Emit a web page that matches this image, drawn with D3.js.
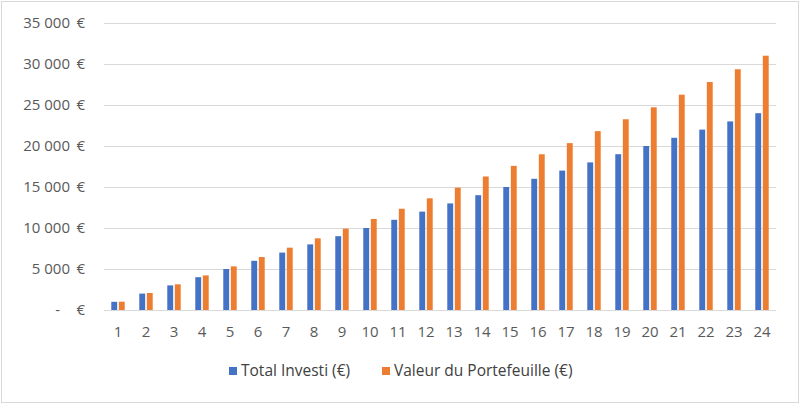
<!DOCTYPE html>
<html>
<head>
<meta charset="utf-8">
<script src="https://cdn.jsdelivr.net/npm/d3@7"></script>
<style>
  body { margin: 0; background: #fff; }
  text { font-family: "Open Sans", "Liberation Sans", sans-serif; fill: #595959; }
</style>
</head>
<body>
<div id="chart"></div>
<script>
let width = 800;
let height = 404;

// years 1..24
let years = d3.range(1, 25).map(String);
let totalInvesti = [1000, 2000, 3000, 4000, 5000, 6000, 7000, 8000, 9000, 10000, 11000, 12000,
    13000, 14000, 15000, 16000, 17000, 18000, 19000, 20000, 21000, 22000, 23000, 24000];
let valeurPortefeuille = [1010, 2070, 3130, 4220, 5320, 6460, 7600, 8740, 9920, 11100, 12350, 13620,
    14920, 16280, 17580, 18990, 20350, 21810, 23260, 24720, 26260, 27800, 29360, 31010];
let yTicks = [0, 5000, 10000, 15000, 20000, 25000, 30000, 35000];
let seriesNames = ["Total Investi (€)", "Valeur du Portefeuille (€)"];
let seriesColors = ["#4472C4", "#ED7D31"];

let margin = {left: 104, right: 24, top: 23, bottom: 94};

let svg = d3.select("#chart").append("svg")
    .attr("width", width)
    .attr("height", height);

// outer frame
svg.append("rect")
    .attr("x", 1.5).attr("y", 1.5)
    .attr("width", width - 3).attr("height", height - 3)
    .attr("fill", "white")
    .attr("stroke", "#D9D9D9");

let x = d3.scaleBand()
    .domain(years)
    .range([margin.left, width - margin.right])
    .paddingInner(0.52)
    .paddingOuter(0.26);

let xInner = d3.scaleBand()
    .domain([0, 1])
    .range([0, x.bandwidth()])
    .paddingInner(0.22);

let y = d3.scaleLinear()
    .domain([0, 35000])
    .range([height - margin.bottom, margin.top]);

// gridlines
svg.append("g")
    .selectAll("line")
    .data(yTicks)
    .enter()
    .append("line")
        .attr("x1", margin.left)
        .attr("x2", width - margin.right)
        .attr("y1", d => Math.round(y(d)) + 0.5)
        .attr("y2", d => Math.round(y(d)) + 0.5)
        .attr("stroke", "#D9D9D9")
        .attr("stroke-width", 1);

// y labels, accounting style: number then €
let fmt = d => d === 0 ? "-" : d3.format(",")(d).replace(/,/g, "\u00A0");
let yLab = svg.append("g").selectAll("g")
    .data(yTicks)
    .enter()
    .append("g")
        .attr("transform", d => `translate(0,${y(d)})`);
yLab.append("text")
    .attr("x", d => d === 0 ? 60 : 70)
    .attr("dy", "0.35em")
    .attr("text-anchor", "end")
    .style("font-size", "15px")
    .text(fmt);
yLab.append("text")
    .attr("x", 85)
    .attr("dy", "0.35em")
    .attr("text-anchor", "end")
    .style("font-size", "15px")
    .text("€");

// bars
let data = years.map((yr, i) => ({year: yr, values: [totalInvesti[i], valeurPortefeuille[i]]}));
let groups = svg.append("g")
    .selectAll("g")
    .data(data)
    .enter()
    .append("g")
        .attr("transform", d => `translate(${x(d.year)},0)`);
groups.selectAll("rect")
    .data(d => d.values.map((v, k) => ({k: k, v: v})))
    .enter()
    .append("rect")
        .attr("x", d => xInner(d.k))
        .attr("width", xInner.bandwidth())
        .attr("y", d => y(d.v))
        .attr("height", d => y(0) - y(d.v))
        .attr("fill", d => seriesColors[d.k]);

// x labels
svg.append("g")
    .selectAll("text")
    .data(years)
    .enter()
    .append("text")
        .attr("x", d => x(d) + x.bandwidth() / 2)
        .attr("y", 337)
        .attr("text-anchor", "middle")
        .style("font-size", "15px")
        .text(d => d);

// legend
let legendX = [229, 382];
let legend = svg.append("g")
    .selectAll("g")
    .data(seriesNames)
    .enter()
    .append("g")
        .attr("transform", (d, i) => `translate(${legendX[i]},371)`);
legend.append("rect")
    .attr("x", 0).attr("y", -4)
    .attr("width", 8).attr("height", 8)
    .attr("fill", (d, i) => seriesColors[i]);
legend.append("text")
    .attr("x", 12)
    .attr("dy", "0.35em")
    .style("font-size", "15.5px")
    .style("fill", "#404040")
    .text(d => d);
</script>
</body>
</html>
